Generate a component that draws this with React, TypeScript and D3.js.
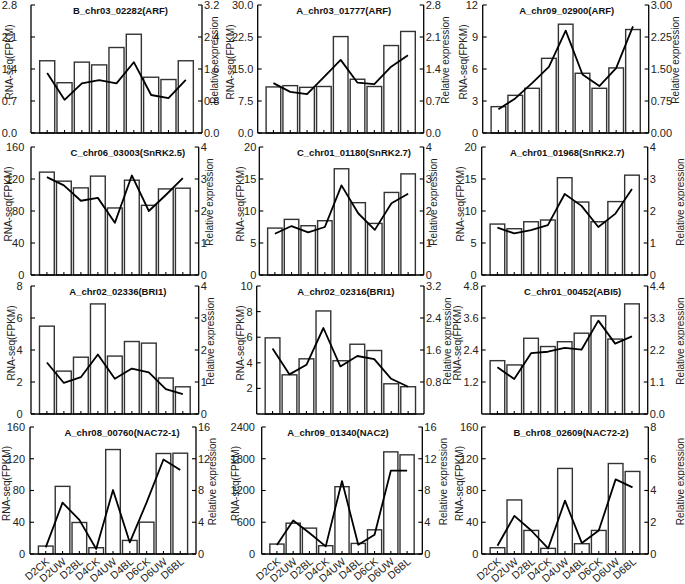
import React from "react";
import * as d3 from "d3";

const categories = ["D2CK", "D2UW", "D2BL", "D4CK", "D4UW", "D4BL", "D6CK", "D6UW", "D6BL"];

const titles = [
  "B_chr03_02282(ARF)", "A_chr03_01777(ARF)", "A_chr09_02900(ARF)",
  "C_chr06_03003(SnRK2.5)", "C_chr01_01180(SnRK2.7)", "A_chr01_01968(SnRK2.7)",
  "A_chr02_02336(BRI1)", "A_chr02_02316(BRI1)", "C_chr01_00452(ABI5)",
  "A_chr08_00760(NAC72-1)", "A_chr09_01340(NAC2)", "B_chr08_02609(NAC72-2)",
];

// RNA-seq (FPKM) bars
const fpkm = [
  [1.58, 1.10, 1.55, 1.49, 1.87, 2.16, 1.22, 1.17, 1.58],
  [10.8, 11.1, 10.7, 10.9, 22.6, 12.6, 10.9, 20.5, 23.8],
  [2.47, 3.53, 4.19, 7.0, 10.2, 5.6, 4.19, 6.1, 9.7],
  [128.6, 117.3, 108.9, 123.6, 83.8, 118.5, 87.1, 107.6, 108.5],
  [7.33, 8.69, 7.70, 8.48, 16.6, 11.3, 8.06, 12.9, 15.8],
  [7.96, 7.23, 8.32, 8.59, 15.2, 11.4, 8.32, 11.47, 15.6],
  [5.49, 2.68, 3.55, 6.88, 3.62, 4.53, 4.43, 2.25, 1.70],
  [5.95, 3.06, 4.31, 8.05, 4.16, 5.45, 4.96, 2.36, 2.13],
  [2.0, 1.84, 2.84, 2.53, 2.71, 3.03, 3.68, 2.81, 4.13],
  [10.0, 85.2, 39.7, 7.9, 131.6, 17.1, 40.1, 126.6, 127.0],
  [188, 583, 489, 157, 1272, 200, 457, 1930, 1874],
  [7.9, 68.1, 29.7, 7.1, 107.8, 12.95, 29.7, 114, 104],
];

// Relative expression (qRT-PCR) lines
const relExpr = [
  [1.50, 0.83, 1.24, 1.32, 1.24, 1.77, 0.95, 0.87, 1.33],
  [1.09, 0.90, 0.85, 1.22, 1.60, 1.10, 1.07, 1.45, 1.70],
  [0.555, 0.81, 1.17, 1.55, 2.40, 1.37, 1.10, 1.52, 2.50],
  [3.06, 2.80, 2.32, 2.41, 1.63, 3.11, 2.00, 2.50, 3.03],
  [1.29, 1.53, 1.33, 1.50, 2.80, 1.93, 1.41, 2.24, 2.54],
  [1.48, 1.30, 1.40, 1.56, 2.53, 2.16, 1.50, 1.91, 2.69],
  [1.61, 0.97, 1.15, 1.86, 1.10, 1.42, 1.30, 0.78, 0.62],
  [1.64, 0.99, 1.23, 2.15, 1.19, 1.45, 1.37, 0.88, 0.68],
  [1.61, 1.20, 2.09, 2.14, 2.27, 2.21, 3.21, 2.42, 2.67],
  [0.84, 6.47, 4.3, 0.63, 8.06, 1.46, 6.5, 11.9, 10.57],
  [1.13, 4.22, 2.65, 0.96, 9.19, 1.17, 2.42, 10.5, 10.5],
  [0.52, 2.4, 1.48, 0.35, 3.36, 0.69, 1.48, 4.7, 4.2],
];

const leftTicks = [
  ["0.0", "0.7", "1.4", "2.1", "2.8"],
  ["0.0", "7.5", "15.0", "22.5", "30.0"],
  ["0", "3", "6", "9", "12"],
  ["0", "40", "80", "120", "160"],
  ["0", "5", "10", "15", "20"],
  ["0", "5", "10", "15", "20"],
  ["0", "2", "4", "6", "8"],
  ["2", "4", "6", "8", "10"],
  ["1.2", "2.4", "3.6", "4.8"],
  ["0", "40", "80", "120", "160"],
  ["0", "600", "1200", "1800", "2400"],
  ["0", "40", "80", "120", "160"],
];

const rightTicks = [
  ["0.0", "0.8", "1.6", "2.4", "3.2"],
  ["0.0", "0.7", "1.4", "2.1", "2.8"],
  ["0.00", "0.75", "1.50", "2.25", "3.00"],
  ["0", "1", "2", "3", "4"],
  ["0", "1", "2", "3", "4"],
  ["0", "1", "2", "3", "4"],
  ["0", "1", "2", "3", "4"],
  ["0.8", "1.6", "2.4", "3.2"],
  ["0.0", "1.1", "2.2", "3.3", "4.4"],
  ["0", "4", "8", "12", "16"],
  ["0", "4", "8", "12", "16"],
  ["0", "2", "4", "6", "8"],
];

// Layout (pixels), one entry per panel
const plotLeft = [31, 257.7, 482.7, 31, 259.3, 481.7, 31, 256.7, 481.7, 30, 261.7, 481.7];
const plotRight = [202, 423.7, 648.7, 198.7, 423.7, 647.7, 198.7, 424, 647.7, 196, 422.3, 648.3];
const rowTop = [5, 147, 286, 427];
const rowBottom = [133, 275, 414, 554];
const titleDx = [4, 3, 1, 13, 12.5, 2.5, 3, 5.5, 8, 9, -4, 6];
const leftGap = [14, 4.4, 4.7, 6.7, 3, 5, 8.5, 4, 3, 5, 6.7, 3.4];
const leftTitleX = [9, 230, 463, 8, 240, 460, 11, 240, 457, 6, 235, 459];
const rightTitleX = [214, 445, 675, 209.5, 433, 680, 210, 447, 680, 212, 443, 680];

const FONT = "'Liberation Sans', Arial, Helvetica, sans-serif";

function Panel({ i }: { i: number }) {
  const row = Math.floor(i / 3);
  const x0 = plotLeft[i];
  const x1 = plotRight[i];
  const y0 = rowTop[row];
  const y1 = rowBottom[row];
  const lt = leftTicks[i];
  const rt = rightTicks[i];
  const lMax = parseFloat(lt[lt.length - 1]);
  const rMax = parseFloat(rt[rt.length - 1]);

  const x = d3.scaleBand<string>().domain(categories).range([x0, x1]).paddingInner(0.13).paddingOuter(0.5);
  const yL = d3.scaleLinear().domain([0, lMax]).range([y1, y0]);
  const yR = d3.scaleLinear().domain([0, rMax]).range([y1, y0]);
  const cx = (c: string) => (x(c) as number) + x.bandwidth() / 2;

  const lineGen = d3
    .line<number>()
    .x((_, k) => cx(categories[k]))
    .y((v) => yR(v));

  const midY = (y0 + y1) / 2;

  return (
    <g>
      {fpkm[i].map((v, k) => (
        <rect
          key={k}
          x={x(categories[k])}
          y={yL(v)}
          width={x.bandwidth()}
          height={y1 - yL(v)}
          fill="#fff"
          stroke="#333"
          strokeWidth={1.4}
        />
      ))}
      <path d={lineGen(relExpr[i]) || ""} fill="none" stroke="#000" strokeWidth={1.8} strokeLinejoin="round" />
      <line x1={x0} x2={x0} y1={y0} y2={y1} stroke="#000" strokeWidth={1.3} />
      <line x1={x1} x2={x1} y1={y0} y2={y1} stroke="#000" strokeWidth={1.3} />
      <line x1={x0} x2={x1} y1={y1} y2={y1} stroke="#000" strokeWidth={1.3} />
      {lt.map((t) => {
        const yy = yL(parseFloat(t));
        return (
          <g key={"l" + t}>
            <line x1={x0} x2={x0 + 4} y1={yy} y2={yy} stroke="#000" strokeWidth={1.1} />
            <text x={x0 - leftGap[i]} y={yy} dy="0.36em" textAnchor="end" fontSize={11} fontFamily={FONT} fill="#222">
              {t}
            </text>
          </g>
        );
      })}
      {rt.map((t) => {
        const yy = yR(parseFloat(t));
        return (
          <g key={"r" + t}>
            <line x1={x1} x2={x1 - 4} y1={yy} y2={yy} stroke="#000" strokeWidth={1.1} />
            <text x={x1 + 2} y={yy} dy="0.36em" textAnchor="start" fontSize={11} fontFamily={FONT} fill="#222">
              {t}
            </text>
          </g>
        );
      })}
      {categories.map((c) => (
        <line key={"b" + c} x1={cx(c)} x2={cx(c)} y1={y1} y2={y1 - 3} stroke="#000" strokeWidth={1.1} />
      ))}
      {row === 3 &&
        categories.map((c) => (
          <text
            key={"xl" + c}
            transform={`translate(${cx(c) + 2},${y1 + 6}) rotate(-40)`}
            textAnchor="end"
            dy="0.35em"
            fontSize={10.5}
            fontFamily={FONT}
            fill="#222"
          >
            {c}
          </text>
        ))}
      <text
        x={(x0 + x1) / 2 + titleDx[i]}
        y={y0 + 9}
        textAnchor="middle"
        fontSize={9.5}
        fontWeight="bold"
        fontFamily={FONT}
        fill="#111"
      >
        {titles[i]}
      </text>
      <text
        transform={`translate(${leftTitleX[i]},${midY - 7}) rotate(-90)`}
        textAnchor="middle"
        dy="0.35em"
        fontSize={10}
        fontFamily={FONT}
        fill="#222"
      >
        RNA-seq(FPKM)
      </text>
      <text
        transform={`translate(${rightTitleX[i]},${midY - 9}) rotate(-90)`}
        textAnchor="middle"
        dy="0.35em"
        fontSize={10}
        fontFamily={FONT}
        fill="#222"
      >
        Relative expression
      </text>
    </g>
  );
}

export default function App() {
  return (
    <svg
      width={685}
      height={584}
      viewBox="0 0 685 584"
      style={{ position: "absolute", left: 0, top: 0, background: "#fff" }}
    >
      <rect width={685} height={584} fill="#fff" />
      {titles.map((_, i) => (
        <Panel key={i} i={i} />
      ))}
    </svg>
  );
}
